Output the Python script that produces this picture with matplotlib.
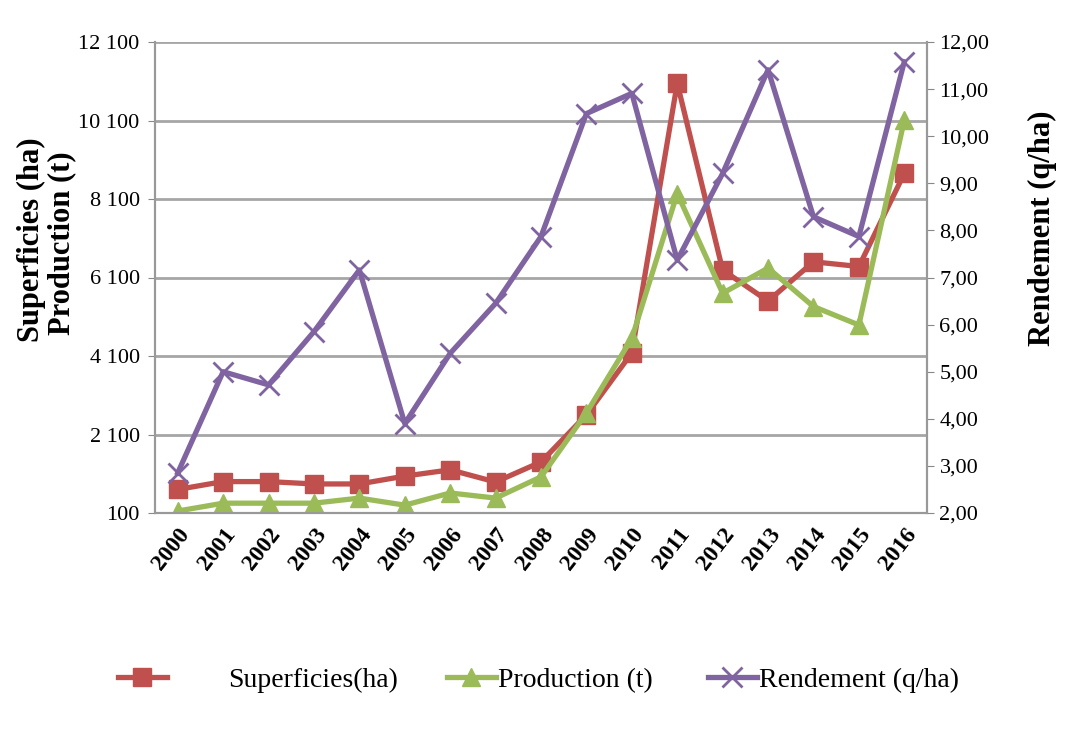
import matplotlib
matplotlib.use("Agg")
import matplotlib.pyplot as plt
from matplotlib.ticker import FuncFormatter, MultipleLocator

years = [str(y) for y in range(2000, 2017)]
superficies = [700, 900, 900, 840, 840, 1040, 1200, 890, 1400, 2600, 4180,
               11050, 6290, 5500, 6500, 6380, 8750]
production = [150, 350, 350, 350, 480, 300, 610, 480, 1020, 2650, 4550,
              8240, 5700, 6340, 5360, 4890, 10110]
rendement = [2.85, 5.00, 4.72, 5.85, 7.16, 3.90, 5.39, 6.45, 7.87, 10.48, 10.91,
             7.37, 9.21, 11.41, 8.29, 7.87, 11.58]

left_ticks = [100, 2100, 4100, 6100, 8100, 10100, 12100]

plt.rcParams['font.family'] = ['Liberation Serif', 'DejaVu Serif']

fig = plt.figure(figsize=(10.71, 7.44), dpi=100)
ax = fig.add_axes([155/1071, 1-513/744, (927-155)/1071, (513-42)/744])
ax2 = ax.twinx()

x = list(range(len(years)))
red = '#C0504D'
green = '#9BBB59'
purple = '#8064A2'

l1, = ax.plot(x, superficies, color=red, lw=3.8, marker='s', ms=13,
              mfc=red, mec=red, label='Superficies(ha)', zorder=3)
l2, = ax.plot(x, production, color=green, lw=3.8, marker='^', ms=13,
              mfc=green, mec=green, label='Production (t)', zorder=4)
l3, = ax2.plot(x, rendement, color=purple, lw=3.8, marker='x', ms=14,
               mew=2, label='Rendement (q/ha)', zorder=3)

ax.set_xlim(-0.5, len(years) - 0.5)
ax.set_ylim(100, 12100)
ax.set_yticks(left_ticks)
ax.yaxis.set_major_formatter(FuncFormatter(lambda v, p: f"{int(v):,}".replace(',', ' ')))
ax2.set_ylim(2, 12)
ax2.yaxis.set_major_locator(MultipleLocator(1))
ax2.yaxis.set_major_formatter(FuncFormatter(lambda v, p: f"{v:.2f}".replace('.', ',')))

ax.grid(axis='y', color='#A6A6A6', lw=2)
ax.set_axisbelow(True)
ax.set_xticks(x)
ax.set_xticklabels(years, rotation=52, ha='right', rotation_mode='anchor',
                   fontsize=17, fontweight='bold')
ax.tick_params(axis='x', length=0, pad=8)
ax.tick_params(axis='y', labelsize=16, length=5, color='#888888', pad=6)
ax2.tick_params(axis='y', labelsize=16, length=5, color='#888888', pad=4)

for a in (ax, ax2):
    a.spines['top'].set_visible(False)
    for s in ('left', 'right', 'bottom'):
        a.spines[s].set_color('#999999')
        a.spines[s].set_linewidth(1.5)

fig.text(31/1071, 1-240/744, 'Superficies (ha)', rotation=90, ha='center',
         va='center', fontsize=22, fontweight='bold')
fig.text(62/1071, 1-243/744, 'Production (t)', rotation=90, ha='center',
         va='center', fontsize=22, fontweight='bold')
fig.text(1042/1071, 1-228/744, 'Rendement (q/ha)', rotation=90, ha='center',
         va='center', fontsize=22, fontweight='bold')

leg_specs = [(l1, 118, 2.2), (l2, 447, 0.1), (l3, 708, 0.1)]
for handle, xpix, pad in leg_specs:
    lg = fig.legend(handles=[handle], loc='center left',
                    bbox_to_anchor=(xpix/1071, 1-680/744), frameon=False,
                    fontsize=20, handlelength=1.75, handletextpad=pad,
                    borderpad=0, borderaxespad=0)

fig.savefig('out.png', dpi=100)
